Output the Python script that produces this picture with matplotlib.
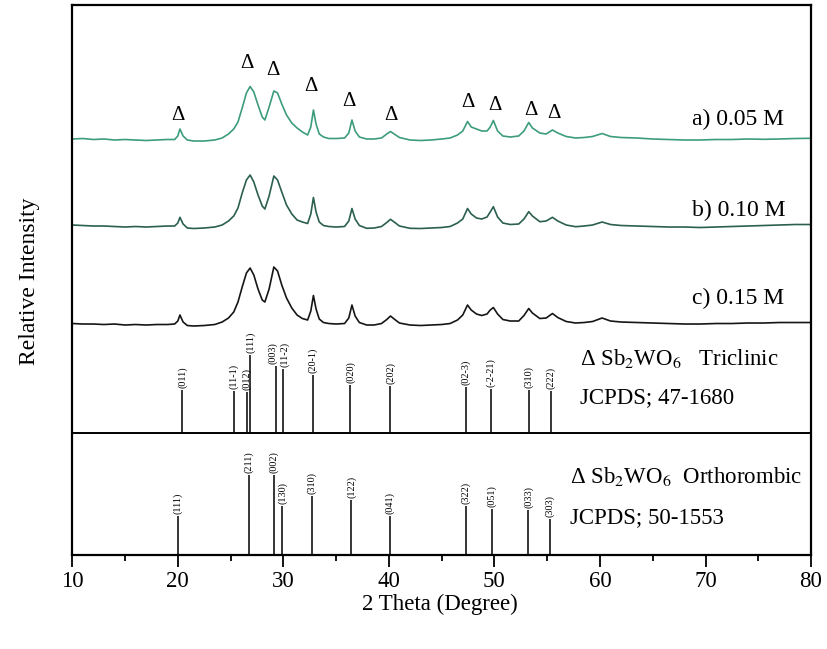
import matplotlib
matplotlib.use("Agg")
import matplotlib.pyplot as plt

plt.rcParams['font.family'] = ['Liberation Serif', 'DejaVu Serif']
plt.rcParams['mathtext.fontset'] = 'stix'

# 2-theta grid (degrees) shared by the three measured patterns
theta = [10, 11, 12, 13, 14, 15, 16, 17, 18, 19, 19.7, 20.0, 20.2, 20.5, 20.9,
         21.5, 22.5, 23.5, 24.2, 24.8, 25.3, 25.7, 26.1, 26.5, 26.85, 27.2, 27.6,
         28.0, 28.25, 28.65, 29.1, 29.45, 29.85, 30.3, 30.8, 31.3, 31.8, 32.3, 32.6,
         32.85, 33.1, 33.4, 33.8, 34.3, 35.0, 35.8, 36.2, 36.5, 36.8, 37.2, 37.9,
         38.6, 39.3, 39.8, 40.15, 40.5, 41.0, 42.0, 43.0, 44.0, 45.0, 45.8, 46.5,
         47.0, 47.45, 47.8, 48.3, 48.8, 49.3, 49.6, 49.9, 50.3, 50.8, 51.5, 52.3,
         52.8, 53.25, 53.6, 54.3, 54.9, 55.5, 56.0, 56.8, 57.7, 58.5, 59.3, 60.2,
         61.0, 62.0, 63.5, 65.0, 66.5, 68.0, 69.5, 71.0, 72.5, 74.0, 75.5, 77.0,
         78.5, 80.0]

# a) 0.05 M (offset intensity, arbitrary units)
int_a = [416, 416.5, 415.5, 416, 415, 415.5, 415, 414.5, 415, 415.5, 415.5, 419, 426,
         419, 415, 414, 414, 415, 417, 421, 426, 433, 447, 462, 468.5, 463, 450,
         438, 435, 448, 464, 462, 451, 440, 432, 427, 423, 420, 428, 445, 431, 421,
         418, 416.5, 416.5, 417, 422, 435, 424, 418, 416, 416, 417, 421, 423.5, 421,
         417.5, 415, 414.5, 415, 416, 417, 420, 424, 433.5, 428, 426, 424, 424, 428,
         434.5, 424, 419, 418, 419, 424, 432.5, 427, 422, 421, 425, 422, 418.5, 417,
         417.5, 418.5, 421.5, 418.5, 417.5, 417, 416, 415.5, 415, 415, 415.5, 415.5,
         416, 415.7, 416, 416.5, 416.7]

# b) 0.10 M
int_b = [330, 329.5, 329, 329, 328.5, 328, 328.5, 328, 328.5, 329, 329, 332, 337.7,
         331, 327, 326.5, 327, 328, 330, 334, 339, 347, 362, 375, 380, 373, 360,
         349, 346, 359, 379, 375, 363, 350, 341, 335, 333, 331.5, 341, 357.5, 343,
         333, 329.5, 328.5, 328, 328.5, 334, 346.5, 336, 329.5, 326.7, 327, 328.5,
         332.5, 335.7, 333, 329, 326.7, 326.5, 327, 327.5, 328.5, 332, 336, 346.5,
         341, 337, 336, 338, 343, 348.3, 338, 332, 330.5, 331, 336, 343.3, 339,
         333.3, 334, 337.7, 334, 330, 328.3, 329, 330, 333, 330.5, 329.5, 329,
         328.5, 328, 328, 327.5, 328, 328.5, 329, 329.5, 330, 330.5, 330.5]

# c) 0.15 M
int_c = [231.5, 231, 231, 230.5, 231, 230, 230.5, 230, 230.5, 230.5, 231, 234, 240,
         233, 229.5, 229, 229.5, 230.5, 233, 237, 243, 253, 268, 282, 287, 280, 266,
         255, 253, 266, 288, 284, 270, 257, 247, 240, 236.5, 235, 244, 259.5, 246,
         236, 232.5, 231.5, 231, 231.5, 237, 250, 239, 232.5, 230, 230, 231.5, 235.5,
         239, 236, 232, 230, 229.5, 230, 230.5, 231.5, 235, 240, 250, 245, 241,
         239.5, 241, 245, 247.5, 241, 235.5, 234, 234, 239.5, 246.5, 242, 236.5, 237,
         241.5, 237.5, 233.5, 232, 232.5, 233.5, 237, 234, 233, 232.5, 232, 231.5,
         231, 231, 231.5, 231.5, 232, 232, 232.5, 232.5, 232.5]

sample_labels = ['a) 0.05 M', 'b) 0.10 M', 'c) 0.15 M']
sample_colors = ['#3d9c7e', '#2b5f50', '#161616']

# peak markers on pattern a
marker_theta = [20.05, 26.55, 29.05, 32.63, 36.26, 40.18, 47.48, 50.07, 53.45, 55.6]
marker_y = [440, 491.7, 485, 468.3, 453.3, 440, 452.3, 450, 444.3, 441.7]

# JCPDS 47-1680 (triclinic)
tri_theta = [20.43, 25.30, 26.53, 26.87, 29.28, 29.97, 32.79, 36.35, 40.14,
             47.32, 49.69, 53.26, 55.37]
tri_int = [43, 42.3, 41, 78, 67, 64.3, 58, 48, 47, 46, 44, 43, 42.3]
tri_hkl = ['(011)', '(11-1)', '(012)', '(111)', '(003)', '(11-2)', '(20-1)',
           '(020)', '(202)', '(02-3)', '(-2-21)', '(310)', '(222)']

# JCPDS 50-1553 (orthorhombic)
ort_theta = [20.02, 26.72, 29.09, 29.91, 32.72, 36.45, 40.11, 47.29, 49.78,
             53.22, 55.28]
ort_int = [39, 80, 80, 49, 59.3, 55, 39, 49.3, 46, 45, 36]
ort_hkl = ['(111)', '(211)', '(002)', '(130)', '(310)', '(122)', '(041)',
           '(322)', '(051)', '(033)', '(303)']

xticks = [10, 20, 30, 40, 50, 60, 70, 80]

fig = plt.figure(figsize=(8.27, 6.49), dpi=100)
ax = fig.add_axes([0.0874, 0.1448, 0.8933, 0.8475])
ax.set_xlim(10, 80)
ax.set_ylim(0, 550)

for ys, col in zip([int_a, int_b, int_c], sample_colors):
    ax.plot(theta, ys, color=col, lw=1.2)

label_y = [436, 345, 257]
for lab, ly in zip(sample_labels, label_y):
    ax.text(68.7, ly, lab, fontsize=17, ha='left', va='center')

for mx, my in zip(marker_theta, marker_y):
    ax.text(mx, my, '\u0394', fontsize=15, ha='center', va='center')

# small horizontal nudges so crowded labels do not collide
label_nudge = {'(003)': -0.3, '(11-2)': 0.15}

tri_base = 122
ax.axhline(tri_base, color='black', lw=1.4)
for t, h, hkl in zip(tri_theta, tri_int, tri_hkl):
    ax.vlines(t, tri_base, tri_base + h, color='black', lw=1.1)
    ax.text(t + label_nudge.get(hkl, 0), tri_base + h + 2, hkl, rotation=90,
            fontsize=7.3, ha='center', va='bottom')
for t, h, hkl in zip(ort_theta, ort_int, ort_hkl):
    ax.vlines(t, 0, h, color='black', lw=1.1)
    ax.text(t, h + 2, hkl, rotation=90, fontsize=7.3, ha='center', va='bottom')

ax.text(58.1, 190, '\u0394 Sb$_2$WO$_6$   Triclinic', fontsize=16.5, ha='left',
        va='baseline')
ax.text(58.1, 157, 'JCPDS; 47-1680', fontsize=16.5, ha='left', va='center')
ax.text(57.2, 72, '\u0394 Sb$_2$WO$_6$  Orthorombic', fontsize=16.5, ha='left',
        va='baseline')
ax.text(57.2, 37, 'JCPDS; 50-1553', fontsize=16.5, ha='left', va='center')

ax.set_xticks(xticks)
ax.set_xticklabels([str(v) for v in xticks])
ax.set_xticks([15, 25, 35, 45, 55, 65, 75], minor=True)
ax.set_yticks([])
ax.tick_params(axis='x', which='major', direction='out', length=8.5, width=1.3,
               labelsize=16.5, pad=3)
ax.tick_params(axis='x', which='minor', direction='out', length=4.5, width=1.3)
for s in ax.spines.values():
    s.set_linewidth(1.6)

fig.text(0.036, 0.566, 'Relative Intensity', rotation=90, fontsize=17,
         ha='center', va='center')
fig.text(0.532, 0.068, '2 Theta (Degree)', fontsize=16.5, ha='center',
         va='center')

fig.savefig('out.png', dpi=100)
